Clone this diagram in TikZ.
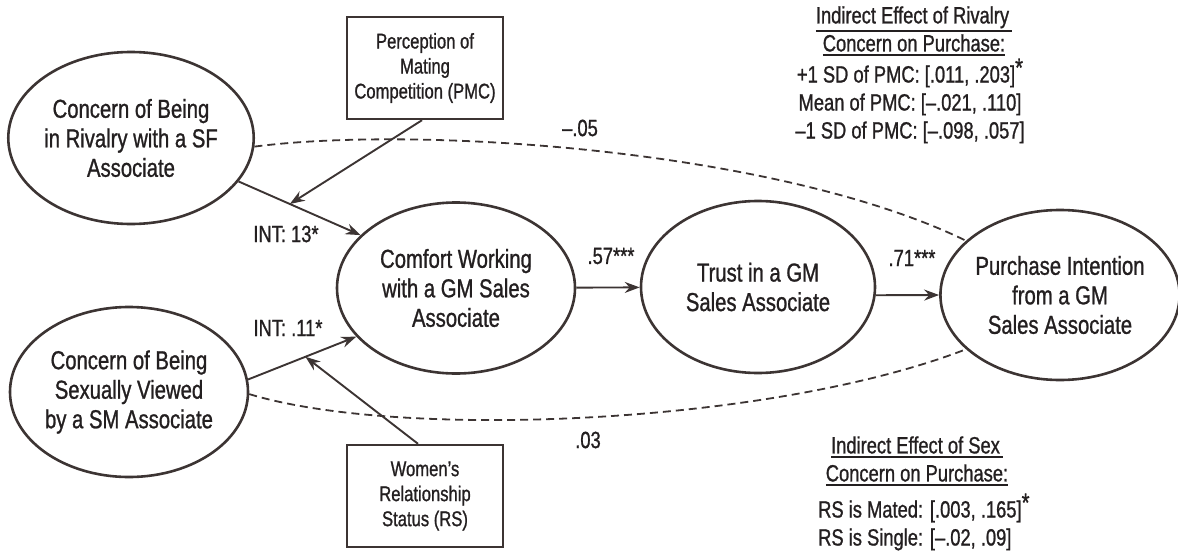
\documentclass[tikz,border=0pt]{standalone}
\usepackage{fontspec}
\setmainfont{Liberation Sans}[FakeStretch=0.78,FakeBold=1]
\usetikzlibrary{shapes.geometric,arrows.meta,calc}
\definecolor{ln}{HTML}{3C3433}
\definecolor{tx}{HTML}{231F20}
\newcommand{\fsz}[2]{\fontsize{#1}{#2}\selectfont}
\newcommand{\rstar}{\raisebox{6pt}{\fsz{26}{26}*}}
\newcommand{\ul}[1]{\vtop{\hbox{#1}\kern2.2pt\hrule height 1.8pt}}
\begin{document}
\begin{tikzpicture}[x=1pt,y=-1pt,
  lat/.style={ellipse,draw=ln,line width=2.6pt,inner sep=0pt,align=center,text=tx,font=\fsz{26}{29.5}},
  obs/.style={rectangle,draw=ln,line width=2.4pt,inner sep=0pt,align=center,text=tx,font=\fsz{21.3}{25},minimum width=156pt,minimum height=102pt},
  arr/.style={draw=ln,line width=1.9pt,-{Stealth[length=15pt,width=11pt,inset=5pt]}},
  dsh/.style={draw=ln,line width=1.8pt,dash pattern=on 8pt off 5pt},
  lbl/.style={text=tx,font=\fsz{23.5}{27},inner sep=0pt},
  blk/.style={text=tx,font=\fsz{23.5}{28},inner sep=0pt},
]
\useasboundingbox (0,0) rectangle (1178,554);

% latent variables
\node[lat,minimum width=238pt,minimum height=172pt] (riv) at (131,138) {Concern of Being\\in Rivalry with a SF\\Associate};
\node[lat,minimum width=238pt,minimum height=170pt] (sex) at (129,392) {Concern of Being\\Sexually Viewed\\by a SM Associate};
\node[lat,minimum width=238pt,minimum height=171pt] (com) at (456,288) {Comfort Working\\with a GM Sales\\Associate};
\node[lat,minimum width=234pt,minimum height=172pt] (tru) at (758,287) {Trust in a GM\\Sales Associate};
\node[lat,minimum width=234pt,minimum height=170pt] (pur) at (1060,295) {Purchase Intention\\from a GM\\Sales Associate};

% moderators
\node[obs] (pmc) at (425,68) {Perception of\\Mating\\Competition (PMC)};
\node[obs] (rs) at (425,496) {Women’s\\Relationship\\Status (RS)};

% main paths
\draw[arr] (riv.-22) -- (com.151);
\draw[arr] (sex.6) -- (com.206);
\coordinate (m1) at ($(riv.-22)!0.42!(com.151)$);
\coordinate (m2) at ($(sex.6)!0.53!(com.206)$);
\draw[arr] ($(pmc.south)+(-3,0)$) -- (m1);
\draw[arr] ($(rs.north)+(-7,0)$) -- (m2);
\draw[arr] (com) -- (tru);
\draw[arr] (tru.-4) -- (pur.west);

% direct (dashed) paths
\draw[dsh] (riv.-4) .. controls (420,125) and (780,150) .. (pur.150);
\draw[dsh] (sex.-1) .. controls (400,440) and (770,425) .. (pur.210);

% path labels
\node[lbl] (l1) at (286,234) {INT: 13*};
\node[lbl] (l2) at (288,328) {INT: .11*};
\node[lbl] (l3) at (580,128) {–.05};
\node[lbl] (l4) at (588,440) {.03};
\node[lbl] (l5) at (611,256) {.57***};
\node[lbl] (l6) at (912,258) {.71***};

% indirect effects (top)
\node[blk,align=center] (h1) at (914,31) {\ul{Indirect Effect of Rivalry\kern3pt}\\\ul{Concern on Purchase:}};
\node[blk,align=center] (r1) at (910,101) {+1 SD of PMC: [.011, .203]\rstar\\Mean of PMC: [–.021, .110]\\–1 SD of PMC: [–.098, .057]};

% indirect effects (bottom)
\node[blk,align=center] (h2) at (917,461) {\ul{Indirect Effect of Sex\kern3pt}\\\ul{Concern on Purchase:}};
\node[blk,align=left,anchor=west] (r2) at (818,522) {RS is Mated: [.003, .165]\rstar\\RS is Single: [–.02, .09]};
\end{tikzpicture}
\end{document}
